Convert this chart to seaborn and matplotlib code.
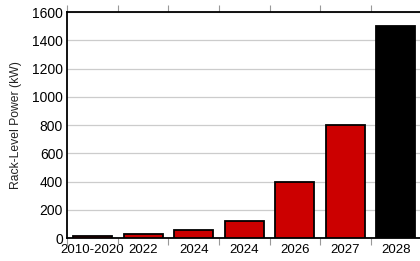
import matplotlib
matplotlib.use("Agg")
import matplotlib.pyplot as plt
import seaborn as sns
import pandas as pd
import numpy as np

categories = ["2010-2020", "2022", "2024", "2024 ", "2026", "2027", "2028"]
tick_labels = ["2010-2020", "2022", "2024", "2024", "2026", "2027", "2028"]
values = [15, 28, 60, 120, 400, 800, 1500]
colors = ["#CC0000", "#CC0000", "#CC0000", "#CC0000", "#CC0000", "#CC0000", "#000000"]

sns.set_theme(style="white")
plt.rcParams["font.family"] = ["Liberation Sans", "DejaVu Sans"]

df = pd.DataFrame({"cat": categories, "val": values})

fig = plt.figure(figsize=(4.2, 2.61), dpi=100)
ax = fig.add_axes([0.16, 0.088, 0.843, 0.866])

sns.barplot(data=df, x="cat", y="val", hue="cat", palette=colors, legend=False,
            width=0.77, edgecolor="black", linewidth=1.3, saturation=1, ax=ax, zorder=3)

ax.set_ylim(0, 1600)
ax.set_xlim(-0.5, 6.5)
ax.set_yticks(np.arange(0, 1601, 200))
ax.yaxis.grid(True, color="#cccccc", linewidth=0.9, zorder=0)
ax.set_axisbelow(True)
ax.tick_params(axis="y", labelsize=10, length=0, pad=3, colors="black")

ax.set_xticks(range(len(tick_labels)))
ax.set_xticklabels(tick_labels, fontsize=9.5)
ax.tick_params(axis="x", which="major", length=0, pad=4, colors="black")
ax.set_xticks(np.arange(-0.5, 6.6, 1.0), minor=True)
ax.tick_params(axis="x", which="minor", length=5, width=0.8, color="#999999",
               direction="out", top=True, bottom=True)

ax.set_xlabel("")
ax.set_ylabel("Rack-Level Power (kW)", fontsize=8.7, labelpad=7, color="#222222")

for s in ["left", "top", "bottom", "right"]:
    ax.spines[s].set_visible(True)
    ax.spines[s].set_color("black")
    ax.spines[s].set_linewidth(1.3)

fig.savefig("out.png", dpi=100)
